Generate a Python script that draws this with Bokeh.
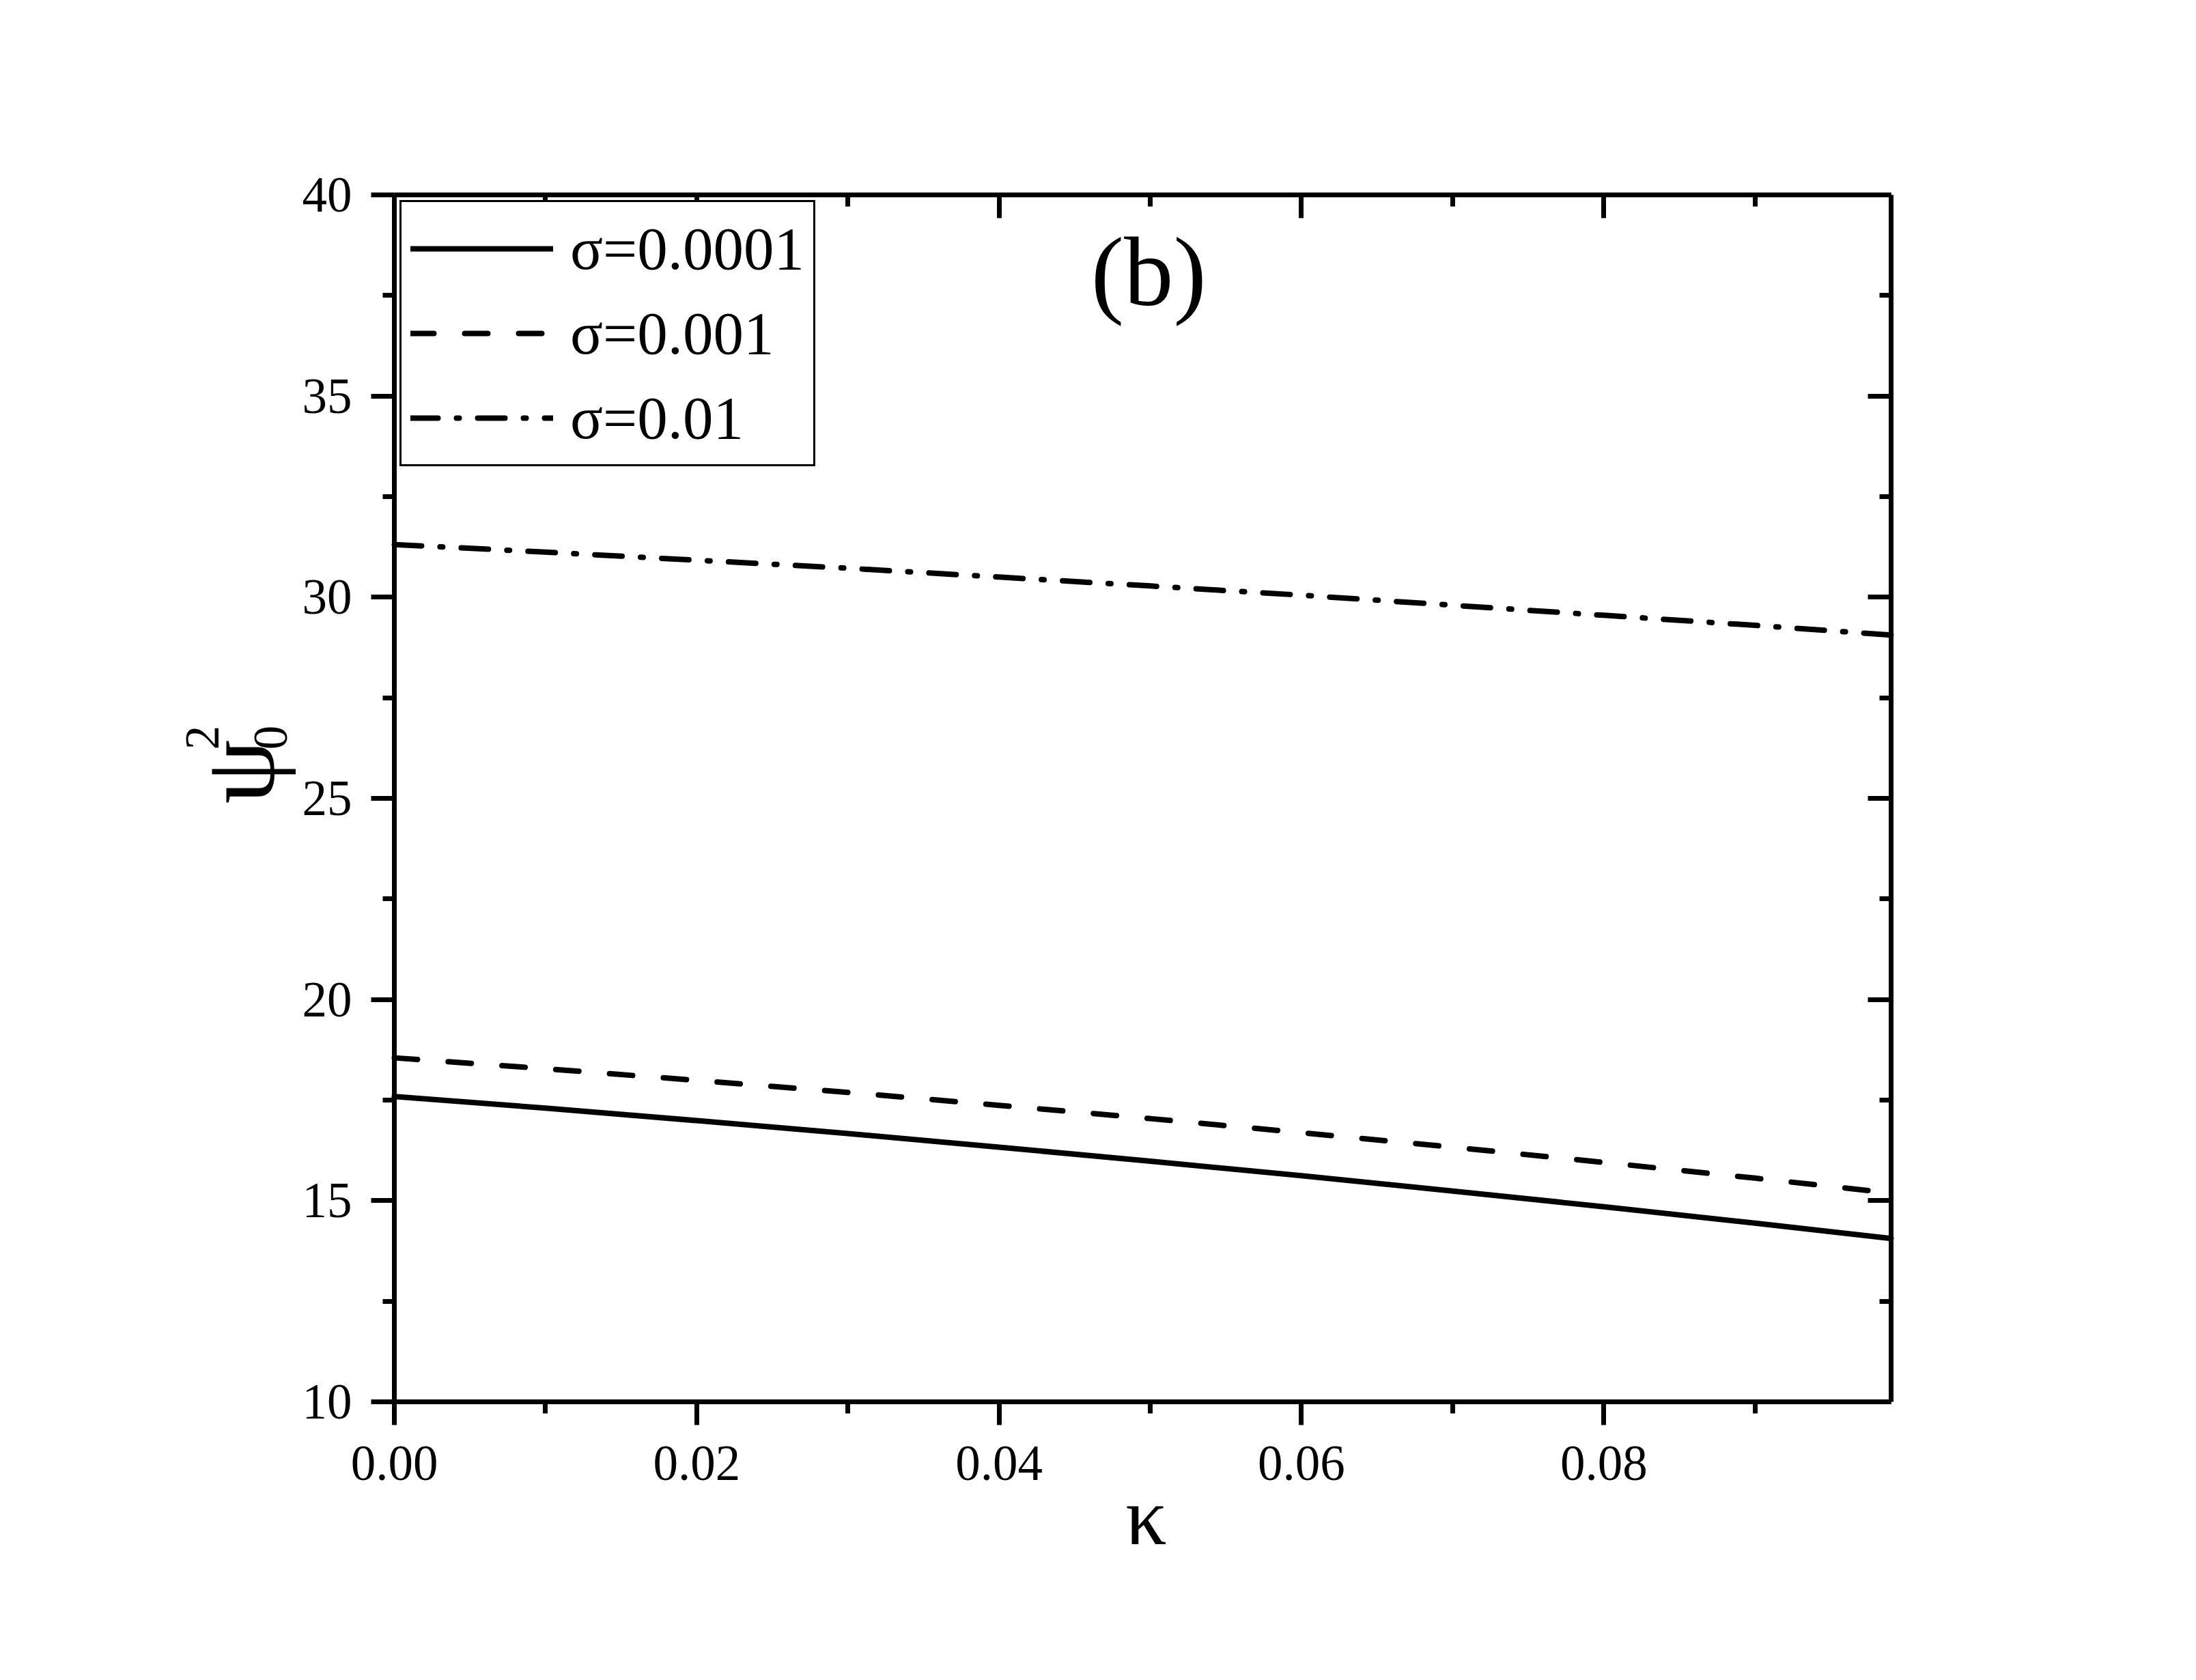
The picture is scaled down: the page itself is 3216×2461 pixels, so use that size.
from bokeh.plotting import figure
from bokeh.models import (Range1d, FixedTicker, LinearAxis, Legend, LegendItem,
                          Label, PrintfTickFormatter, CustomJSTickFormatter)
from bokeh.embed import file_html
from bokeh.resources import INLINE

# ---- data ----
kappa = [0.0, 0.01, 0.02, 0.03, 0.04, 0.05, 0.06, 0.07, 0.08, 0.09, 0.099]
psi_s0001 = [17.59, 17.30, 16.99, 16.67, 16.33, 15.98, 15.62, 15.24, 14.85, 14.44, 14.06]
psi_s001 = [18.55, 18.28, 17.99, 17.69, 17.37, 17.04, 16.69, 16.33, 15.95, 15.56, 15.19]
psi_s01 = [31.31, 31.12, 30.92, 30.72, 30.50, 30.28, 30.05, 29.80, 29.55, 29.30, 29.06]
series_labels = ["σ=0.0001", "σ=0.001", "σ=0.01"]

x_major = [0.0, 0.02, 0.04, 0.06, 0.08]
x_minor = [0.01, 0.03, 0.05, 0.07, 0.09]
y_major = [10, 15, 20, 25, 30, 35, 40]
y_minor = [12.5, 17.5, 22.5, 27.5, 32.5, 37.5]
X_MIN, X_MAX = 0.0, 0.099
Y_MIN, Y_MAX = 10, 40

FONT = "Liberation Serif"

# ---- layout geometry (pixels on the canvas) ----
W, H = 3200, 2445
FL, FR, FT, FB = 150, 3050, 150, 2275          # oversized frame
AX_L, AX_R, AX_T, AX_B = 577, 2769, 285, 2053  # the drawn axes box
px_x = (X_MAX - X_MIN) / (AX_R - AX_L)
px_y = (Y_MAX - Y_MIN) / (AX_B - AX_T)

def sx2x(sx):
    return X_MIN + (sx - AX_L) * px_x

def sy2y(sy):
    return Y_MIN + (AX_B - sy) * px_y

p = figure(width=W, height=H, output_backend="svg", toolbar_location=None,
           x_range=Range1d(sx2x(FL), sx2x(FR)), y_range=Range1d(sy2y(FB), sy2y(FT)),
           min_border_left=FL, min_border_right=W - FR,
           min_border_top=FT, min_border_bottom=H - FB,
           background_fill_color="white", border_fill_color="white")
p.outline_line_color = None
p.grid.visible = False

AXW = 7

def style_axis(ax, inward):
    ax.axis_line_width = AXW
    ax.axis_line_color = "black"
    ax.major_tick_line_width = AXW
    ax.minor_tick_line_width = AXW
    ax.major_tick_line_color = "black"
    ax.minor_tick_line_color = "black"
    if inward:
        ax.major_tick_in, ax.major_tick_out = 34, 0
        ax.minor_tick_in, ax.minor_tick_out = 17, 0
    else:
        ax.major_tick_in, ax.major_tick_out = 0, 34
        ax.minor_tick_in, ax.minor_tick_out = 0, 17
    ax.major_label_text_font = FONT
    ax.major_label_text_font_size = "73px"
    ax.major_label_text_color = "black"

blank = CustomJSTickFormatter(code="return ''")

xa = p.xaxis[0]
xa.ticker = FixedTicker(ticks=x_major, minor_ticks=x_minor)
xa.formatter = PrintfTickFormatter(format="%.2f")
xa.bounds = (X_MIN, X_MAX)
xa.fixed_location = Y_MIN
style_axis(xa, inward=False)
xa.major_label_standoff = 31

ya = p.yaxis[0]
ya.ticker = FixedTicker(ticks=y_major, minor_ticks=y_minor)
ya.bounds = (Y_MIN, Y_MAX)
ya.fixed_location = X_MIN
style_axis(ya, inward=False)
ya.major_label_standoff = 28

top = LinearAxis(ticker=FixedTicker(ticks=x_major, minor_ticks=x_minor), formatter=blank,
                 bounds=(X_MIN, X_MAX), fixed_location=Y_MAX)
style_axis(top, inward=True)
top.major_label_text_font_size = "1px"
top.major_label_standoff = 0
p.add_layout(top, "above")
right = LinearAxis(ticker=FixedTicker(ticks=y_major, minor_ticks=y_minor), formatter=blank,
                   bounds=(Y_MIN, Y_MAX), fixed_location=X_MAX)
style_axis(right, inward=True)
right.major_label_text_font_size = "1px"
right.major_label_standoff = 0
p.add_layout(right, "right")

r1 = p.line(kappa, psi_s0001, line_width=8, line_color="black", line_cap="round")
r2 = p.line(kappa, psi_s001, line_width=8, line_color="black", line_cap="round",
            line_dash="34 45")
r3 = p.line(kappa, psi_s01, line_width=8, line_color="black", line_cap="round",
            line_dash="40 27 4 27")

legend = Legend(items=[LegendItem(label=series_labels[0], renderers=[r1]),
                       LegendItem(label=series_labels[1], renderers=[r2]),
                       LegendItem(label=series_labels[2], renderers=[r3])],
                location=(585 - FL, FB - 683), margin=0, padding=13, spacing=14,
                glyph_width=209, glyph_height=110, label_standoff=25,
                label_text_font=FONT, label_text_font_size="89px",
                label_text_color="black",
                border_line_color="black", border_line_width=3, border_line_alpha=1.0,
                background_fill_color="white", background_fill_alpha=1.0)
p.add_layout(legend)

p.add_layout(Label(x=0.0499, y=38.09, text="(b)", text_align="center",
                   text_baseline="middle", text_font=FONT,
                   text_font_size="145px", text_color="black"))

# x-axis title
p.add_layout(Label(x=sx2x(1678), y=sy2y(2221), text="κ", text_align="center",
                   text_baseline="middle", text_font=FONT,
                   text_font_size="120px", text_color="black"))

# y-axis title psi_0^2 (rotated)
for txt, size, sx, sy in [("ψ", "150px", 349, 1130),
                          ("0", "71px", 396, 1080),
                          ("2", "71px", 296, 1080)]:
    p.add_layout(Label(x=sx2x(sx), y=sy2y(sy), text=txt, angle=1.5707963,
                       text_align="center", text_baseline="middle",
                       text_font=FONT, text_font_size=size, text_color="black"))

open("out.html", "w").write(file_html(p, INLINE))
